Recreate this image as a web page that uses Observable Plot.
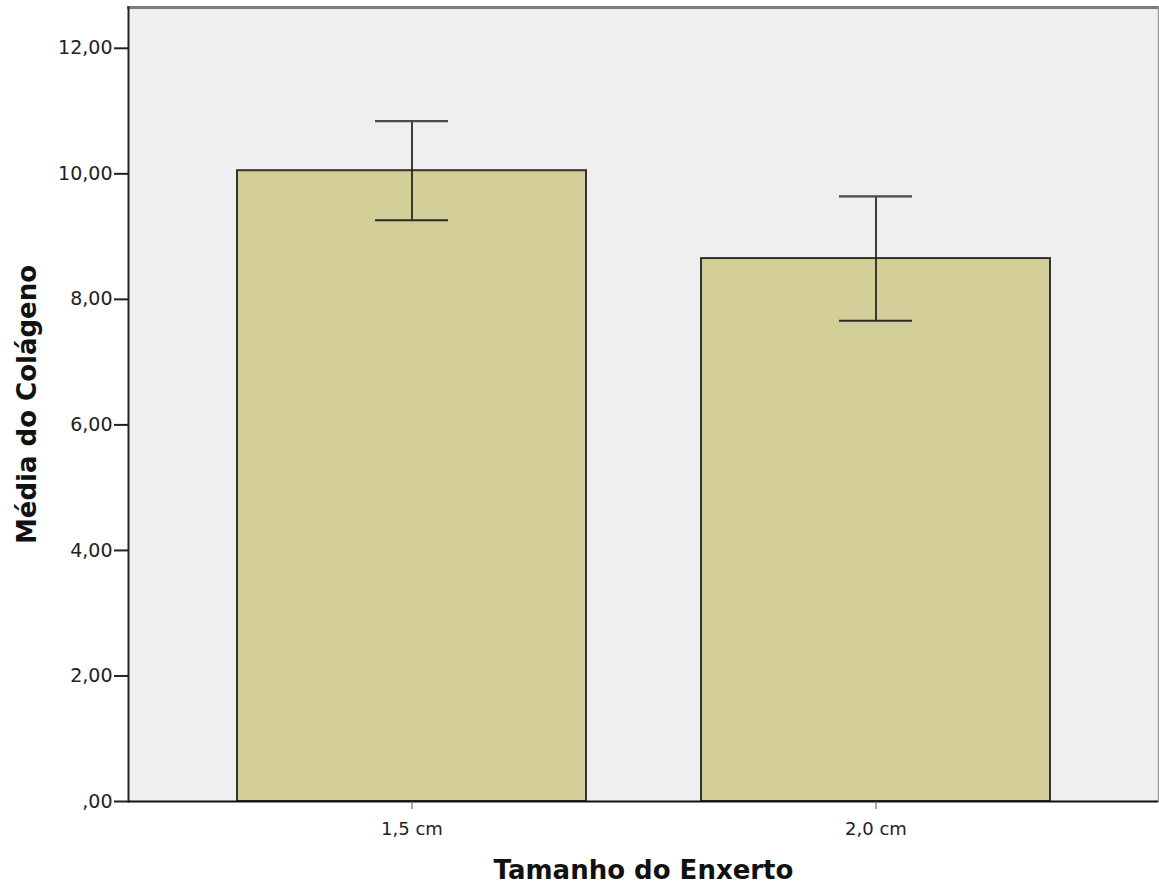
<!DOCTYPE html>
<html>
<head>
<meta charset="utf-8">
<script src="https://cdn.jsdelivr.net/npm/d3@7"></script>
<script src="https://cdn.jsdelivr.net/npm/@observablehq/plot@0.6"></script>
<style>
  html, body { margin: 0; padding: 0; background: #ffffff; }
  #chart svg { display: block; }
</style>
</head>
<body>
<div id="chart"></div>
<script>
// Collagen mean by graft size, with error bars
const categories = ["1,5 cm", "2,0 cm"];
const means = [10.05, 8.65];
const lower = [9.26, 7.66];
const upper = [10.84, 9.64];
const yTicks = [0, 2, 4, 6, 8, 10, 12];

const xLabel = "Tamanho do Enxerto";
const yLabel = "Média do Colágeno";

const rows = categories.map((c, i) => ({cat: c, mean: means[i], lo: lower[i], hi: upper[i]}));

const font = "'DejaVu Sans', Verdana, sans-serif";
const fmt = d => d === 0 ? ",00" : d.toFixed(2).replace(".", ",");

const chart = Plot.plot({
  width: 1159,
  height: 885,
  marginTop: 7,
  marginRight: 1,
  marginBottom: 84,
  marginLeft: 128,
  style: {fontFamily: font, color: "#222", background: "#ffffff"},
  x: {domain: categories, paddingInner: 0.248, paddingOuter: 0.232, label: null},
  y: {domain: [0, 12.65], label: null},
  marks: [
    Plot.frame({fill: "#efefef", stroke: null}),
    Plot.frame({anchor: "top", stroke: "#7c7c7c", strokeWidth: 3}),
    Plot.frame({anchor: "right", stroke: "#9a9a9a", strokeWidth: 1.5}),
    Plot.barY(rows, {x: "cat", y: "mean", fill: "#d3ce97", stroke: "#333", strokeWidth: 2}),
    Plot.ruleX(rows, {x: "cat", y1: "lo", y2: "hi", stroke: "#1e1e1e", strokeWidth: 1.7}),
    Plot.tickY(rows, {x: "cat", y: "lo", stroke: "#2a2a2a", strokeWidth: 1.9, insetLeft: 138, insetRight: 138}),
    Plot.tickY(rows, {x: "cat", y: "hi", stroke: "#4a4a4a", strokeWidth: 2.2, insetLeft: 138, insetRight: 138}),
    Plot.frame({anchor: "left", stroke: "#222", strokeWidth: 2}),
    Plot.ruleY([0], {stroke: "#111", strokeWidth: 2}),
    Plot.axisY({ticks: yTicks, tickFormat: fmt, tickSize: 14, tickPadding: 2, fontSize: 19, stroke: "#222", strokeWidth: 2, label: null}),
    Plot.axisX({tickSize: 8, tickPadding: 13, fontSize: 18, stroke: "#555", label: null}),
    Plot.text([yLabel], {frameAnchor: "left", dx: -101, rotate: -90, fontSize: 26, fontWeight: "bold", fill: "#111", lineAnchor: "middle", textAnchor: "middle"}),
    Plot.text([xLabel], {frameAnchor: "bottom", dy: 69, fontSize: 26, fontWeight: "bold", fill: "#111", lineAnchor: "middle", textAnchor: "middle"})
  ]
});

document.getElementById("chart").appendChild(chart);
</script>
</body>
</html>
